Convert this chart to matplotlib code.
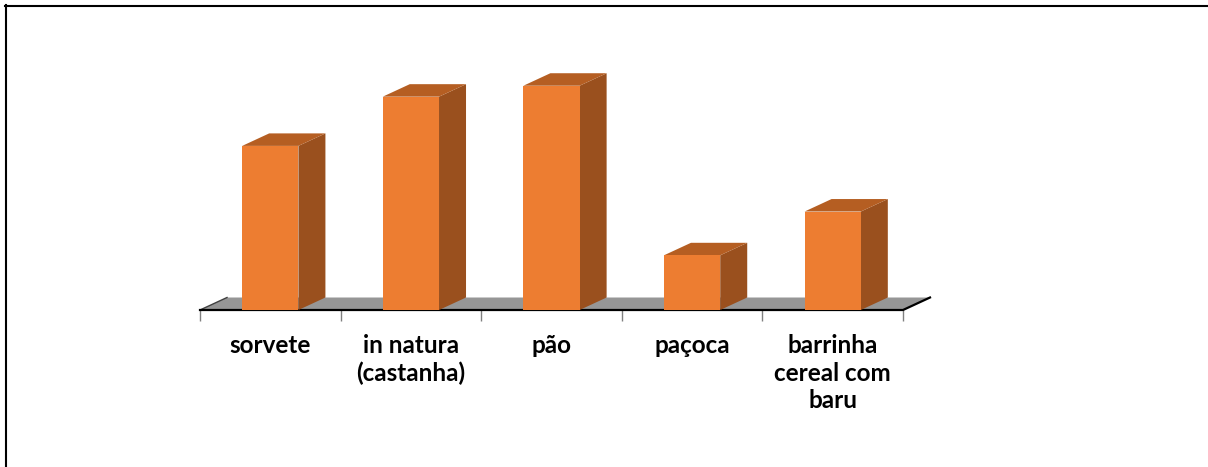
import matplotlib
matplotlib.use("Agg")
import matplotlib.pyplot as plt
from matplotlib.patches import Polygon
from matplotlib.lines import Line2D

# Data
categories = ["sorvete", "in natura\n(castanha)", "pão", "paçoca", "barrinha\ncereal com\nbaru"]
values = [30, 39, 41, 10, 18]

# Colours
FRONT = "#ED7D31"
SIDE = "#9A501E"
TOP = "#B55E22"
FLOOR = "#969696"

W, H, DPI = 1208, 467, 100
fig = plt.figure(figsize=(W / DPI, H / DPI), dpi=DPI)

# Plot area in pixels (from left / from top)
x0_px, x1_px = 200, 903
y0_px = 310
ymax = 50
px_per_unit = 5.47
top_px = y0_px - ymax * px_per_unit
ax = fig.add_axes([x0_px / W, (H - y0_px) / H, (x1_px - x0_px) / W, (y0_px - top_px) / H])
ax.set_xlim(0, len(categories))
ax.set_ylim(0, ymax)
ax.set_facecolor("none")
for s in ax.spines.values():
    s.set_visible(False)

# Oblique depth offset, in data units
cat_px = (x1_px - x0_px) / len(categories)
dx = 27 / cat_px
dy = 12.5 / px_per_unit

n = len(categories)
# Floor
floor = Polygon([(0, 0), (n, 0), (n + dx, dy), (dx, dy)], closed=True,
                facecolor=FLOOR, edgecolor="none", zorder=1, clip_on=False)
ax.add_patch(floor)
ax.add_line(Line2D([0, dx], [0, dy], color="#404040", lw=1.0, zorder=2, clip_on=False))
ax.add_line(Line2D([0, n, n + dx], [0, 0, dy], color="black", lw=1.6, zorder=2,
                   clip_on=False, solid_joinstyle="miter"))

# Bars
bw = 0.4
for i, v in enumerate(values):
    c = i + 0.5
    l, r = c - bw / 2, c + bw / 2
    side = Polygon([(r, 0), (r + dx, dy), (r + dx, v + dy), (r, v)], closed=True,
                   facecolor=SIDE, edgecolor="none", zorder=3, clip_on=False)
    top = Polygon([(l, v), (r, v), (r + dx, v + dy), (l + dx, v + dy)], closed=True,
                  facecolor=TOP, edgecolor="none", zorder=3, clip_on=False)
    front = Polygon([(l, 0), (r, 0), (r, v), (l, v)], closed=True,
                    facecolor=FRONT, edgecolor="none", zorder=4, clip_on=False)
    for p in (side, top, front):
        ax.add_patch(p)

# Axis ticks and labels
ax.set_yticks([])
ax.set_xticks(range(n + 1), minor=True)
ax.tick_params(axis="x", which="minor", length=8, width=1, color="#808080")
ax.set_xticks([i + 0.5 for i in range(n)])
ax.set_xticklabels(categories, fontsize=17.5, fontweight="bold", family=["Lato", "DejaVu Sans"],
                   linespacing=1.26)
ax.tick_params(axis="x", which="major", length=0, pad=17)

# Outer frame (top and left edges)
lw = 1.5
fig.add_artist(Line2D([5 / W, 1.0], [1 - 6 / H, 1 - 6 / H], transform=fig.transFigure,
                      color="black", lw=lw))
fig.add_artist(Line2D([6 / W, 6 / W], [1 - 5 / H, 0.0], transform=fig.transFigure,
                      color="black", lw=lw))

fig.savefig("out.png", dpi=DPI, facecolor="white")
